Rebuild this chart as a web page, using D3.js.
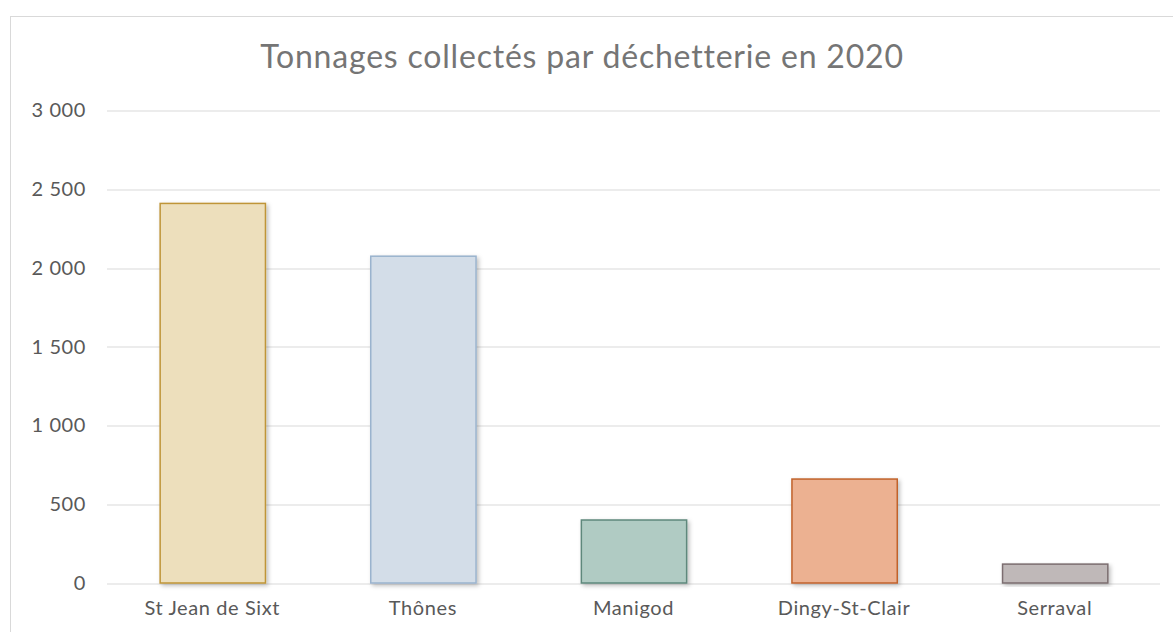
<!DOCTYPE html>
<html>
<head>
<meta charset="utf-8">
<script src="https://cdn.jsdelivr.net/npm/d3@7"></script>
<style>
  body { margin: 0; background: #fff; }
  svg text { font-family: 'Lato', 'Open Sans', sans-serif; }
  .grid line { stroke: #d9d9d9; stroke-width: 1; }
  .axis text { fill: #595959; font-size: 20px; letter-spacing: 0.6px; }
</style>
</head>
<body>
<svg id="chart" width="1173" height="632"></svg>
<script>
const sites = ['St Jean de Sixt', 'Thônes', 'Manigod', 'Dingy-St-Clair', 'Serraval']
const tonnages = [2410, 2075, 400, 660, 120]
const fills = ['#eddfbc', '#d3dde8', '#b0cbc3', '#ecb191', '#bfb8b8']
const strokes = ['#bf9537', '#9ab3ce', '#5e887c', '#c1622b', '#7b6d6f']
const yTicks = [0, 500, 1000, 1500, 2000, 2500, 3000]

const margin = { top: 110.5, right: 13, bottom: 49, left: 107 }
const W = 1173, H = 632
const width = W - margin.left - margin.right
const height = H - margin.top - margin.bottom

const svg = d3.select('#chart')

// frame
svg.append('rect')
  .attr('x', 10.5).attr('y', 16.5)
  .attr('width', W).attr('height', H)
  .attr('fill', 'none').attr('stroke', '#d9d9d9')

const defs = svg.append('defs')
const shadow = defs.append('filter').attr('id', 'shadow')
  .attr('x', '-10%').attr('y', '-10%').attr('width', '130%').attr('height', '130%')
shadow.append('feDropShadow')
  .attr('dx', 2).attr('dy', 2).attr('stdDeviation', 2)
  .attr('flood-color', '#000').attr('flood-opacity', 0.25)

svg.append('text')
  .attr('x', 582).attr('y', 68)
  .attr('text-anchor', 'middle')
  .attr('fill', '#757575')
  .attr('font-size', '32px')
  .attr('letter-spacing', '0.8px')
  .text('Tonnages collectés par déchetterie en 2020')

const chart = svg.append('g')
  .attr('transform', `translate(${margin.left}, ${margin.top})`)

const x = d3.scaleBand()
  .domain(sites)
  .range([0, width])
  .paddingInner(0.5)
  .paddingOuter(0.25)

const y = d3.scaleLinear()
  .domain([0, 3000])
  .range([height, 0])

// grid
chart.append('g').classed('grid', true)
  .selectAll('line').data(yTicks)
  .enter().append('line')
    .attr('x1', 0).attr('x2', width)
    .attr('y1', d => Math.round(y(d)) + 0.5)
    .attr('y2', d => Math.round(y(d)) + 0.5)

// y axis
const yAxis = d3.axisLeft(y)
  .tickValues(yTicks)
  .tickSize(0)
  .tickPadding(21)
  .tickFormat(d => d3.format(',')(d).replace(',', ' '))
chart.append('g').classed('y axis', true)
  .call(yAxis)
  .call(g => g.select('.domain').remove())

// x axis
const xAxis = d3.axisBottom(x).tickSize(0).tickPadding(18)
chart.append('g').classed('x axis', true)
  .attr('transform', `translate(0, ${height})`)
  .call(xAxis)
  .call(g => g.select('.domain').remove())

// bars
chart.selectAll('rect.bar').data(tonnages)
  .enter().append('rect')
    .classed('bar', true)
    .attr('x', (d, i) => x(sites[i]) + 0.5)
    .attr('y', d => y(d))
    .attr('width', x.bandwidth())
    .attr('height', d => height - y(d))
    .attr('fill', (d, i) => fills[i])
    .attr('stroke', (d, i) => strokes[i])
    .attr('stroke-width', 1.5)
    .attr('filter', 'url(#shadow)')
</script>
</body>
</html>
